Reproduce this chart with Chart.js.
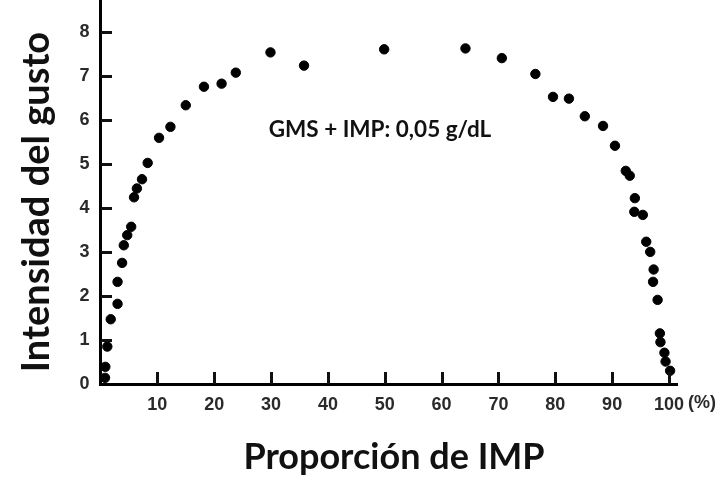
<!DOCTYPE html>
<html>
<head>
<meta charset="utf-8">
<script src="https://cdn.jsdelivr.net/npm/chart.js@4"></script>
<style>
  body { margin: 0; background: #fff; }
  #wrap { width: 727px; height: 501px; }
</style>
</head>
<body>
<div id="wrap"><canvas id="tasteChart" width="727" height="501"></canvas></div>
<script>
// IMP share in the GMS+IMP mix (%) and the taste intensity
const impShare = [
  0.8, 0.85, 1.2, 1.8, 3.0, 3.0, 3.8, 4.1, 4.7, 5.4, 5.9, 6.4, 7.3, 8.3,
  10.3, 12.3, 15.0, 18.2, 21.3, 23.8, 29.9, 35.8, 49.9, 64.2,
  70.6, 76.5, 79.6, 82.4, 85.2, 88.4, 90.5, 92.4, 93.1, 94.0, 93.9, 95.4,
  96.0, 96.7, 97.3, 97.2, 98.0, 98.4, 98.5, 99.2, 99.4, 100.2
];
const tasteScore = [
  0.14, 0.39, 0.85, 1.47, 1.82, 2.32, 2.75, 3.15, 3.38, 3.57, 4.24, 4.44, 4.65, 5.02,
  5.59, 5.84, 6.33, 6.75, 6.82, 7.07, 7.53, 7.23, 7.60, 7.62,
  7.40, 7.04, 6.52, 6.48, 6.08, 5.86, 5.41, 4.84, 4.73, 4.22, 3.91, 3.84,
  3.23, 3.00, 2.60, 2.32, 1.91, 1.15, 0.95, 0.71, 0.51, 0.30
];
const xTicks = [10, 20, 30, 40, 50, 60, 70, 80, 90, 100];
const yTicks = [0, 1, 2, 3, 4, 5, 6, 7, 8];

const xTitle = "Proporción de IMP";
const yTitle = "Intensidad del gusto";
const noteText = "GMS + IMP: 0,05 g/dL";
const unitText = "(%)";

const tickFont = { family: "Liberation Sans", size: 18, weight: "bold" };

const points = impShare.map((x, i) => ({ x: x, y: tasteScore[i] }));

// inward tick marks, the "(%)" unit and the text labels
const overlay = {
  id: "overlay",
  afterDraw(chart) {
    const c = chart.ctx;
    const xs = chart.scales.x;
    const ys = chart.scales.y;
    const left = xs.getPixelForValue(0);
    const bottom = ys.getPixelForValue(0);
    c.save();
    c.fillStyle = "#111";
    for (let i = 1; i < yTicks.length; i++) {
      const py = Math.round(ys.getPixelForValue(yTicks[i]));
      c.fillRect(Math.round(left), py - 1, 11, 3);
    }
    for (let i = 0; i < xTicks.length; i++) {
      const px = Math.round(xs.getPixelForValue(xTicks[i]));
      c.fillRect(px - 1, Math.round(bottom) - 12, 3, 12);
    }

    c.fillStyle = "#2a2a2a";
    c.font = "bold " + tickFont.size + "px '" + tickFont.family + "'";
    c.textAlign = "left";
    c.textBaseline = "middle";
    c.fillText(unitText, xs.getPixelForValue(100) + 19, 403);

    c.fillStyle = "#111";
    c.font = "bold 22.5px Lato";
    c.textAlign = "center";
    c.fillText(noteText, 380, 130);

    c.font = "bold 36px Lato";
    c.fillText(xTitle, 394, 457);

    c.font = "bold 38px Lato";
    c.translate(37, 202);
    c.rotate(-Math.PI / 2);
    c.fillText(yTitle, 0, 0);
    c.restore();
  }
};

const ctx = document.getElementById("tasteChart").getContext("2d");

new Chart(ctx, {
  type: "scatter",
  data: {
    datasets: [{
      data: points,
      backgroundColor: "#000",
      borderColor: "#000",
      pointRadius: 4.7,
      pointHoverRadius: 4.7,
      clip: false
    }]
  },
  options: {
    responsive: false,
    animation: false,
    layout: { autoPadding: false, padding: { left: 0, top: 0, right: 49.5, bottom: 0 } },
    plugins: {
      legend: { display: false },
      tooltip: { enabled: false }
    },
    scales: {
      x: {
        type: "linear",
        min: 0,
        max: 101.5,
        afterBuildTicks: s => { s.ticks = xTicks.map(v => ({ value: v })); },
        afterFit: s => { s.height = 117; s.paddingLeft = 0; s.paddingRight = 0; },
        grid: { display: true, drawOnChartArea: false, drawTicks: false },
        border: { display: true, color: "#000", width: 3 },
        ticks: { color: "#2a2a2a", font: tickFont, padding: 10, maxRotation: 0, autoSkip: false }
      },
      y: {
        type: "linear",
        min: 0,
        max: 8.72,
        afterBuildTicks: s => { s.ticks = yTicks.map(v => ({ value: v })); },
        afterFit: s => { s.width = 100.5; s.paddingTop = 0; s.paddingBottom = 0; },
        grid: { display: true, drawOnChartArea: false, drawTicks: false },
        border: { display: true, color: "#000", width: 3 },
        ticks: { color: "#2a2a2a", font: tickFont, padding: 11, autoSkip: false }
      }
    }
  },
  plugins: [overlay]
});
</script>
</body>
</html>
